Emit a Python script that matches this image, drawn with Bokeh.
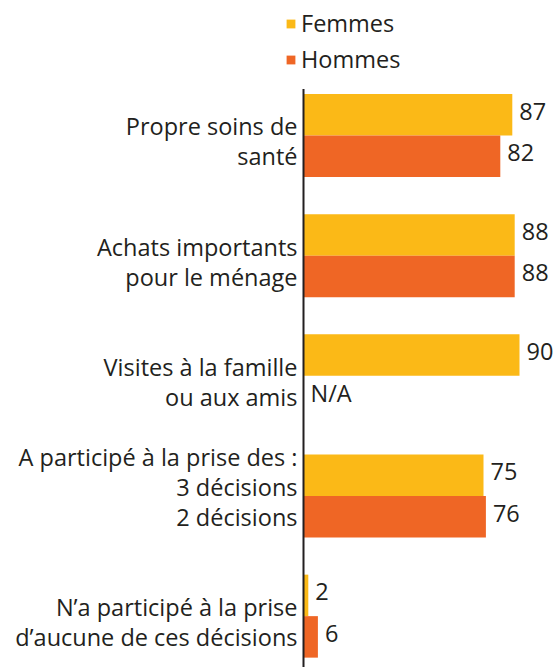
from bokeh.plotting import figure
from bokeh.models import ColumnDataSource, Range1d, Legend, LegendItem
from bokeh.core.properties import value
from bokeh.embed import file_html
from bokeh.resources import INLINE

# ---------------- data ----------------
categories = [
    ["Propre soins de", "santé"],
    ["Achats importants", "pour le ménage"],
    ["Visites à la famille", "ou aux amis"],
    ["A participé à la prise des :", "3 décisions", "2 décisions"],
    ["N\u2019a participé à la prise", "d\u2019aucune de ces décisions"],
]
femmes = [87, 88, 90, 75, 2]
hommes = [82, 88, None, 76, 6]
missing_label = "N/A"
series_names = ["Femmes", "Hommes"]

# ---------------- style / layout ----------------
YELLOW = "#FBB917"
ORANGE = "#EF6625"
TEXT = "#231F20"
FONT = "Open Sans"
FS = "23.5px"

W, H = 554, 667
ZERO_PX = 303.0          # screen x of value 0
PX_X = 2.4               # px per unit along x
PPU = 120.17             # px per group along y
MID_PX = 375.3           # screen y of the middle group
BAR_PX = 41.5
LINE_PX = 30.0
LAST_LINE_PX = 21.0

n = len(femmes)
mid = (n - 1) / 2
x_range = Range1d(-ZERO_PX / PX_X, (W - ZERO_PX) / PX_X)
y_top = mid - MID_PX / PPU
y_bot = mid + (H - MID_PX) / PPU
y_range = Range1d(y_bot, y_top)

p = figure(width=W, height=H, x_range=x_range, y_range=y_range,
           output_backend="svg", toolbar_location=None, min_border=0)
p.axis.visible = False
p.grid.visible = False
p.outline_line_color = None
p.background_fill_color = "white"
p.border_fill_color = "white"

bh = BAR_PX / PPU
idx = list(range(n))
nan = float("nan")
h_vals = [nan if v is None else v for v in hommes]

src_f = ColumnDataSource(dict(y=[i - bh / 2 for i in idx], right=femmes,
                              lab=[str(v) for v in femmes]))
src_h = ColumnDataSource(dict(y=[i + bh / 2 for i in idx], right=h_vals,
                              lab=[missing_label if v is None else str(v) for v in hommes],
                              lx=[0 if v is None else v for v in hommes]))

rf = p.hbar(y="y", height=bh, left=0, right="right", source=src_f,
            fill_color=YELLOW, line_color=None)
rh = p.hbar(y="y", height=bh, left=0, right="right", source=src_h,
            fill_color=ORANGE, line_color=None)

# axis line
p.segment(x0=[0], x1=[0], y0=[0 - bh - 5 / PPU], y1=[y_bot + 1],
          line_color=TEXT, line_width=2)

# value labels
lab_shift = 3.5 / PPU
p.text(x="right", y="y", text="lab", source=ColumnDataSource(dict(
    right=femmes, y=[i - bh / 2 - lab_shift for i in idx], lab=src_f.data["lab"])),
    x_offset=7, text_align="left", text_baseline="middle",
    text_font=value(FONT), text_font_size=FS, text_color=TEXT)
p.text(x="lx", y="y", text="lab", source=ColumnDataSource(dict(
    lx=src_h.data["lx"], y=[i + bh / 2 - lab_shift for i in idx], lab=src_h.data["lab"])),
    x_offset=7, text_align="left", text_baseline="middle",
    text_font=value(FONT), text_font_size=FS, text_color=TEXT)

# category labels (multi-line, right aligned)
tx, ty, tt = [], [], []
for i, lines in enumerate(categories):
    m = len(lines)
    for k, line in enumerate(lines):
        off = LAST_LINE_PX - LINE_PX * (m - 1 - k)
        tx.append(0)
        ty.append(i + off / PPU)
        tt.append(line)
p.text(x="x", y="y", text="t", source=ColumnDataSource(dict(x=tx, y=ty, t=tt)),
       x_offset=-6, text_align="right", text_baseline="alphabetic",
       text_font=value(FONT), text_font_size=FS, text_color=TEXT)

legend = Legend(items=[LegendItem(label=series_names[0], renderers=[rf]),
                       LegendItem(label=series_names[1], renderers=[rh])],
                location=(285, 592), orientation="vertical",
                glyph_width=11, glyph_height=11, label_standoff=5, spacing=4,
                padding=0, margin=0, border_line_alpha=0, background_fill_alpha=0,
                label_text_font=FONT, label_text_font_size=FS, label_text_color=TEXT)
p.add_layout(legend)

open("out.html", "w").write(file_html(p, INLINE))
